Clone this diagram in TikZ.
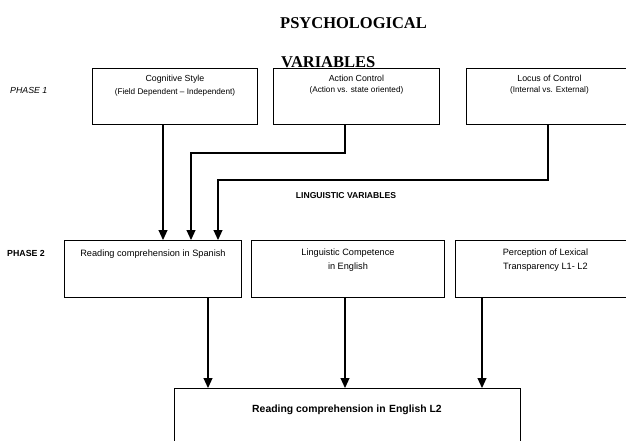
\documentclass[tikz,border=0pt]{standalone}
\usepackage{fontspec}
\setmainfont{Liberation Sans}
\newfontfamily\titlefont{Liberation Serif}
\usetikzlibrary{arrows.meta}
\begin{document}
\begin{tikzpicture}[x=1pt,y=-1pt,
  box/.style={draw, line width=0.9pt, anchor=north west, inner sep=0pt},
  boxtext/.style={anchor=north, align=center, inner sep=0pt},
  conn/.style={line width=1.1pt, -{Triangle[length=10pt,width=9pt]}},
  titletext/.style={anchor=base west, inner sep=0pt, font=\titlefont\bfseries\fontsize{16.5}{18}\selectfont},
  phaselabel/.style={anchor=base west, inner sep=0pt},
  big/.style={font=\fontsize{8.8}{11}\selectfont},
  small/.style={font=\fontsize{8.2}{10}\selectfont}
]
\useasboundingbox (0,0) rectangle (626,441);

% titles
\node[titletext] (t1) at (280,29) {PSYCHOLOGICAL};
\node[titletext] (t2) at (281,67.5) {VARIABLES};

% phase labels
\node[phaselabel, font=\itshape\fontsize{8.8}{10}\selectfont] (p1) at (10,94) {PHASE 1};
\node[phaselabel, font=\bfseries\fontsize{8.8}{10}\selectfont] (p2) at (7,256) {PHASE 2};

% phase 1 boxes
\node[box, minimum width=165pt, minimum height=56pt] (cs) at (92,68) {};
\node[box, minimum width=166pt, minimum height=56pt] (ac) at (273,68) {};
\node[box, minimum width=166pt, minimum height=56pt] (lc) at (466,68) {};

\node[boxtext, big] (cs1) at ([yshift=-7pt]cs.north) {Cognitive Style};
\node[boxtext, small] (cs2) at ([yshift=-4.5pt]cs1.south) {(Field Dependent -- Independent)};
\node[boxtext, big] (ac1) at ([yshift=-7pt]ac.north) {Action Control};
\node[boxtext, small] (ac2) at ([yshift=-4.5pt]ac1.south) {(Action vs. state oriented)};
\node[boxtext, big] (lc1) at ([yshift=-7pt]lc.north) {Locus of Control};
\node[boxtext, small] (lc2) at ([yshift=-4.5pt]lc1.south) {(Internal vs. External)};

% linguistic label
\node[inner sep=0pt, font=\bfseries\fontsize{8.6}{10}\selectfont] (lv) at (346,196) {LINGUISTIC VARIABLES};

% phase 2 boxes
\node[box, minimum width=177pt, minimum height=57pt] (rs) at (64,240) {};
\node[box, minimum width=193pt, minimum height=57pt] (le) at (251,240) {};
\node[box, minimum width=180pt, minimum height=57pt] (pt) at (455,240) {};

\node[boxtext, font=\fontsize{9.2}{13}\selectfont] (rst) at ([yshift=-10pt]rs.north) {Reading comprehension in Spanish};
\node[boxtext, font=\fontsize{9.2}{13.5}\selectfont] (let) at ([yshift=-9pt]le.north) {Linguistic Competence\\in English};
\node[boxtext, font=\fontsize{9.2}{13.5}\selectfont] (ptt) at ([yshift=-9pt]pt.north) {Perception of Lexical\\Transparency L1- L2};

% final box
\node[box, minimum width=346pt, minimum height=80pt] (re) at (174,388) {};
\node[inner sep=0pt, font=\bfseries\fontsize{10.4}{12}\selectfont] (ret) at (347,410) {Reading comprehension in\,\,English L2};

% connectors phase 1 -> phase 2
\draw[conn] (cs.south -| 163,0) -- (rs.north -| 163,0);
\draw[conn] (ac.south -| 345,0) -- (345,153) -- (191,153) -- (rs.north -| 191,0);
\draw[conn] (lc.south -| 548,0) -- (548,180) -- (218,180) -- (rs.north -| 218,0);

% connectors phase 2 -> final
\draw[conn] (rs.south -| 208,0) -- (re.north -| 208,0);
\draw[conn] (le.south -| 345,0) -- (re.north -| 345,0);
\draw[conn] (pt.south -| 482,0) -- (re.north -| 482,0);
\end{tikzpicture}
\end{document}
